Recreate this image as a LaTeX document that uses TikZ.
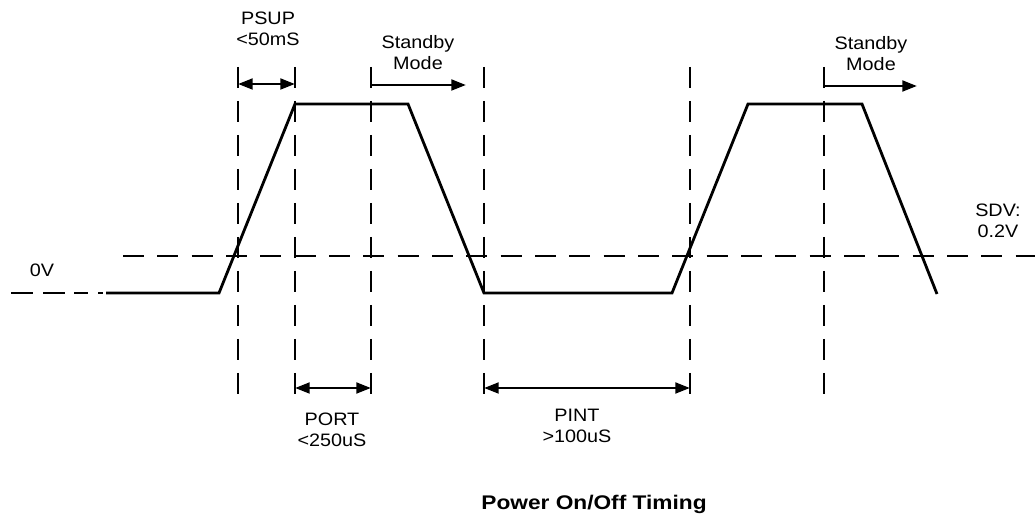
\documentclass[tikz,border=0pt]{standalone}
\usepackage{fontspec}
\setmainfont{Liberation Sans}
\newfontfamily\lblfont[FakeStretch=1.1]{Liberation Sans}
\newfontfamily\ttlfont[FakeStretch=1.15]{Liberation Sans}
\usetikzlibrary{arrows.meta}

\begin{document}
\begin{tikzpicture}[
    x=0.75pt,
    y=-0.75pt,
    font=\lblfont\fontsize{13.5}{15.75}\selectfont,
    >={Triangle[length=11pt,width=8pt]},
    guide/.style={line width=2.2pt, dash pattern=on 15.75pt off 9.75pt},
    level/.style={line width=2.2pt, dash pattern=on 15.75pt off 10pt},
    wave/.style={line width=2.1pt, line join=miter},
    span/.style={<->, line width=2.1pt},
    mode/.style={->, line width=2.1pt},
    lbl/.style={align=center, anchor=base, inner sep=0pt}
  ]
    \useasboundingbox (0,0) rectangle (1035,523);

    % vertical timing guides
    \foreach \gx [count=\i] in {238,295,371,484,690,824} {
      \coordinate (g\i-top) at (\gx,67);
      \coordinate (g\i-bot) at (\gx,398);
      \draw[guide] (g\i-top) -- (g\i-bot);
    }

    % shutdown threshold
    \coordinate (sdv-a) at (123,256);
    \coordinate (sdv-b) at (1035,256);
    \draw[level] (sdv-a) -- (sdv-b);

    % supply waveform
    \draw[line width=2.1pt, dash pattern=on 16.5pt off 7.5pt on 16.5pt off 7pt on 10.5pt off 7.5pt on 3.75pt off 20pt] (11,293) -- (104,293);
    \draw[wave] (106,293) -- (219,293) -- (295,104) -- (408,104) -- (484,293)
      -- (672,293) -- (748,104) -- (862,104) -- (937,294);

    % intervals
    \coordinate (psup-a) at (238,84);
    \coordinate (psup-b) at (295,84);
    \coordinate (port-a) at (295,388);
    \coordinate (port-b) at (371,388);
    \coordinate (pint-a) at (484,388);
    \coordinate (pint-b) at (690,388);
    \coordinate (stby1-a) at (371,85);
    \coordinate (stby1-b) at (466,85);
    \coordinate (stby2-a) at (824,86);
    \coordinate (stby2-b) at (917,86);
    \draw[span] (psup-a) -- (psup-b);
    \draw[span] (port-a) -- (port-b);
    \draw[span] (pint-a) -- (pint-b);
    \draw[mode] (stby1-a) -- (stby1-b);
    \draw[mode] (stby2-a) -- (stby2-b);

    % labels (base = last line)
    \node[lbl] (psup) at (268,46) {PSUP\\<50mS};
    \node[lbl] (stby1) at (418,70) {Standby\\Mode};
    \node[lbl] (stby2) at (871,71) {Standby\\Mode};
    \node[lbl] (port) at (332,447) {PORT\\<250uS};
    \node[lbl] (pint) at (577,443) {PINT\\>100uS};
    \node[lbl] (zerov) at (42,277) {0V};
    \node[lbl] (sdv) at (998,238) {SDV:\\0.2V};
    \node[lbl, font=\ttlfont\bfseries\fontsize{14.8}{17}\selectfont] (title) at (594,509) {Power On/Off Timing};
  \end{tikzpicture}
\end{document}
